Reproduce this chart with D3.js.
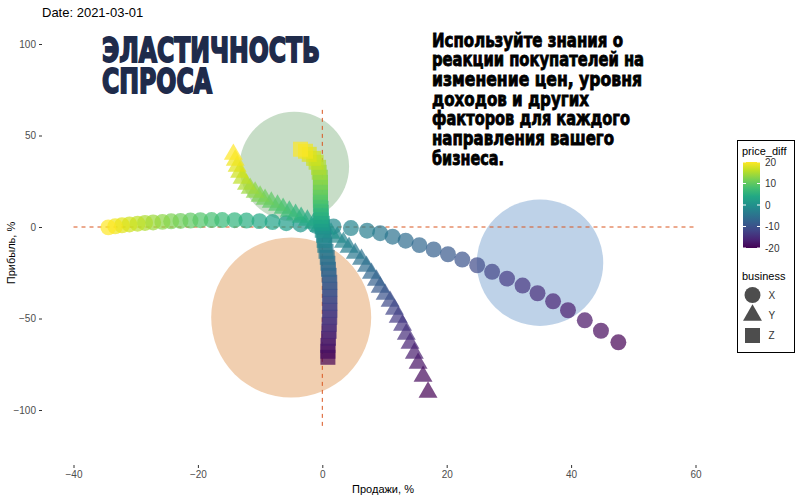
<!DOCTYPE html>
<html>
<head>
<meta charset="utf-8">
<script src="https://cdn.jsdelivr.net/npm/d3@7"></script>
<style>
  body { margin: 0; background: #fff; }
  svg { display: block; font-family: "Liberation Sans", Arial, sans-serif; }
</style>
</head>
<body>
<svg id="chart" width="800" height="500"></svg>
<script>
// price_diff for each step of every series (same for X, Y, Z)
const priceDiff = [20, 19, 18, 17, 16, 15, 14, 13, 12, 11, 10, 9, 8, 7, 6, 5, 4, 3, 2, 1, 0,
  -1, -2, -3, -4, -5, -6, -7, -8, -9, -10, -11, -12, -13, -14, -15, -16, -17, -18, -19, -20];

// business X (circles): [sales %, profit %]
const seriesX = [
  [-34.4, -0.2], [-33.3, 0.4], [-32.2, 0.9], [-31.0, 1.4], [-29.7, 1.8], [-28.5, 2.2], [-27.2, 2.5],
  [-25.7, 2.8], [-24.3, 3.1], [-22.8, 3.3], [-21.2, 3.5], [-19.6, 3.7], [-17.8, 3.8], [-16.1, 3.8],
  [-14.1, 3.7], [-12.2, 3.5], [-10.1, 3.2], [-8.0, 2.7], [-5.8, 2.1], [-3.5, 1.4], [-1.1, 0.7],
  [1.8, 0.3], [4.6, -0.6], [7.2, -2.0], [9.3, -3.4], [11.3, -5.3], [13.4, -7.5], [15.6, -9.9],
  [17.9, -12.3], [20.2, -14.9], [22.5, -17.8], [24.9, -20.9], [27.3, -24.5], [29.7, -28.2],
  [32.2, -32.0], [34.6, -36.2], [37.1, -40.6], [39.5, -45.5], [42.2, -51.0], [44.8, -56.7], [47.6, -63.0]
];

// business Y (triangles)
const seriesY = [
  [-14.3, 39.7], [-14.0, 36.5], [-13.7, 33.2], [-13.3, 29.9], [-12.9, 26.6], [-12.2, 23.3], [-11.6, 21.1],
  [-10.8, 19.0], [-10.0, 16.8], [-9.2, 15.1], [-8.2, 13.5], [-7.2, 11.9], [-6.3, 10.2], [-5.3, 8.6],
  [-4.3, 6.9], [-3.4, 5.3], [-2.4, 3.7], [-1.4, 2.0], [-0.5, 0.4], [0.5, -1.3], [1.4, -3.4],
  [2.4, -5.6], [3.4, -8.4], [4.3, -11.1], [5.3, -14.4], [6.3, -17.7], [7.1, -21.5], [7.9, -25.3],
  [8.7, -29.1], [9.3, -32.9], [10.1, -36.8], [10.9, -40.6], [11.6, -45.0], [12.2, -49.3], [12.9, -53.7],
  [13.5, -58.6], [14.1, -63.6], [14.8, -69.0], [15.4, -74.5], [16.2, -81.6], [17.0, -90.3]
];

// business Z (squares)
const seriesZ = [
  [-3.5, 42.5], [-2.7, 41.4], [-2.1, 39.7], [-1.4, 37.5], [-1.0, 35.4], [-0.6, 32.6], [-0.5, 29.9],
  [-0.3, 27.2], [-0.3, 24.4], [-0.3, 21.7], [-0.3, 19.0], [-0.3, 16.8], [-0.3, 14.6], [-0.3, 12.4],
  [-0.2, 10.2], [-0.2, 8.0], [-0.2, 5.8], [-0.2, 3.7], [0.0, 2.0], [0.0, 0.4], [0.0, -1.8],
  [0.2, -4.5], [0.3, -7.3], [0.4, -10.0], [0.6, -13.3], [0.8, -16.6], [0.9, -19.8], [1.0, -23.1],
  [1.1, -26.4], [1.2, -30.2], [1.2, -34.0], [1.2, -37.9], [1.2, -41.7], [1.2, -45.5], [1.2, -49.3],
  [1.1, -53.2], [1.1, -57.0], [1.0, -60.8], [0.9, -64.7], [0.9, -67.9], [0.9, -71.2]
];

// background bubbles: [sales, profit, size]
const bubbles = [
  [-4.5, 33, 30],
  [-5, -49.5, 64],
  [35, -19.5, 40]
];
const bubbleColors = ["#8fbc8f", "#e3a062", "#7ea6d2"];

const xTicks = [-40, -20, 0, 20, 40, 60];
const yTicks = [-100, -50, 0, 50, 100];
const legendTicks = [-20, -10, 0, 10, 20];
const businesses = ["X", "Y", "Z"];

const titleLines = ["ЭЛАСТИЧНОСТЬ", "СПРОСА"];
const noteLines = [
  "Используйте знания о",
  "реакции покупателей на",
  "изменение цен, уровня",
  "доходов и других",
  "факторов для каждого",
  "направления вашего",
  "бизнеса."
];

const svg = d3.select("#chart");

const x = d3.scaleLinear().domain([-40, 60]).range([73.5, 695.5]);
const y = d3.scaleLinear().domain([-100, 100]).range([410, 44]);
const color = d3.scaleSequential(d3.interpolateViridis).domain([-20, 20]);
const r = d3.scaleSqrt().domain([0, 100]).range([0, 100]);

const shapes = { X: d3.symbolCircle, Y: d3.symbolTriangle, Z: d3.symbolSquare };
const shapeSize = { X: 200, Y: 155, Z: 225 };

// bubbles
svg.append("g").selectAll("circle")
  .data(bubbles)
  .join("circle")
  .attr("cx", d => x(d[0]))
  .attr("cy", d => y(d[1]))
  .attr("r", d => r(d[2]))
  .attr("fill", (d, i) => bubbleColors[i])
  .attr("fill-opacity", 0.5);

// reference lines
svg.append("line")
  .attr("x1", x(-40)).attr("x2", x(60))
  .attr("y1", y(0)).attr("y2", y(0))
  .attr("stroke", "#d9541e").attr("stroke-width", 1)
  .attr("stroke-dasharray", "4,4");
svg.append("line")
  .attr("x1", x(0)).attr("x2", x(0))
  .attr("y1", y(64)).attr("y2", y(-109))
  .attr("stroke", "#d9541e").attr("stroke-width", 1)
  .attr("stroke-dasharray", "4,4");

// points: purple first, yellow on top
const points = [];
[seriesX, seriesY, seriesZ].forEach((s, k) => {
  const rows = s.map((d, i) => ({ b: businesses[k], sx: d[0], py: d[1], p: priceDiff[i] }));
  rows.sort((a, b) => a.p - b.p);
  points.push(...rows);
});

svg.append("g").selectAll("path")
  .data(points)
  .join("path")
  .attr("transform", d => `translate(${x(d.sx)},${y(d.py)})`)
  .attr("d", d => d3.symbol(shapes[d.b], shapeSize[d.b])())
  .attr("fill", d => color(d.p))
  .attr("fill-opacity", 0.7);

// axes
const xAxis = svg.append("g")
  .attr("transform", "translate(0,465)")
  .call(d3.axisBottom(x).tickValues(xTicks).tickSize(3).tickPadding(3));
const yAxis = svg.append("g")
  .attr("transform", "translate(42,0)")
  .call(d3.axisLeft(y).tickValues(yTicks).tickSize(3).tickPadding(3));
[xAxis, yAxis].forEach(g => {
  g.select(".domain").remove();
  g.selectAll(".tick line").attr("stroke", "#333");
  g.selectAll(".tick text").attr("fill", "#4d4d4d")
    .style("font-family", "Liberation Sans, Arial, sans-serif").style("font-size", "10px");
});

svg.append("text")
  .attr("x", 383).attr("y", 493)
  .attr("text-anchor", "middle")
  .style("font-size", "11px")
  .text("Продажи, %");
svg.append("text")
  .attr("transform", "translate(15,253) rotate(-90)")
  .attr("text-anchor", "middle")
  .style("font-size", "11px")
  .text("Прибыль, %");

// date label
svg.append("text")
  .attr("x", 42).attr("y", 17)
  .style("font-size", "13px")
  .text("Date: 2021-03-01");

// title
const condensed = "'Liberation Sans Narrow', 'DejaVu Sans Condensed', 'Roboto Condensed', sans-serif";
const titleWidths = [218, 110];
svg.append("g").selectAll("text")
  .data(titleLines)
  .join("text")
  .attr("x", 102)
  .attr("y", (d, i) => 62 + i * 31)
  .attr("textLength", (d, i) => titleWidths[i])
  .attr("lengthAdjust", "spacingAndGlyphs")
  .attr("fill", "#1f2b4b")
  .attr("stroke", "#1f2b4b")
  .attr("stroke-width", 1.8)
  .style("font-family", condensed)
  .style("font-weight", "bold")
  .style("font-size", "34px")
  .text(d => d);

// note
const noteWidths = [191, 212, 210, 157, 198, 182, 72];
svg.append("g").selectAll("text")
  .data(noteLines)
  .join("text")
  .attr("x", 432)
  .attr("y", (d, i) => 46.5 + i * 19.7)
  .attr("textLength", (d, i) => noteWidths[i])
  .attr("lengthAdjust", "spacingAndGlyphs")
  .attr("fill", "#000")
  .attr("stroke", "#000")
  .attr("stroke-width", 0.8)
  .style("font-family", condensed)
  .style("font-weight", "bold")
  .style("font-size", "19.5px")
  .text(d => d);

// legend
const lg = svg.append("g");
lg.append("rect")
  .attr("x", 737.5).attr("y", 140.5)
  .attr("width", 57).attr("height", 212)
  .attr("fill", "#fff").attr("stroke", "#000").attr("stroke-width", 1);

lg.append("text").attr("x", 742).attr("y", 155)
  .style("font-size", "11px").text("price_diff");

const grad = svg.append("defs").append("linearGradient")
  .attr("id", "vir").attr("x1", 0).attr("y1", 1).attr("x2", 0).attr("y2", 0);
d3.range(0, 1.01, 0.1).forEach(t => {
  grad.append("stop").attr("offset", t).attr("stop-color", d3.interpolateViridis(t));
});
const ly = d3.scaleLinear().domain([-20, 20]).range([248, 162]);
lg.append("rect")
  .attr("x", 743).attr("y", ly(20))
  .attr("width", 17).attr("height", ly(-20) - ly(20))
  .attr("fill", "url(#vir)");
const lt = lg.append("g").selectAll("g").data(legendTicks).join("g");
lt.append("line").attr("x1", 743).attr("x2", 746)
  .attr("y1", d => ly(d)).attr("y2", d => ly(d)).attr("stroke", "#fff");
lt.append("line").attr("x1", 757).attr("x2", 760)
  .attr("y1", d => ly(d)).attr("y2", d => ly(d)).attr("stroke", "#fff");
lt.append("text").attr("x", 765).attr("y", d => ly(d)).attr("dy", "0.35em")
  .attr("fill", "#333").style("font-size", "10px").text(d => d);

lg.append("text").attr("x", 742).attr("y", 280)
  .style("font-size", "11px").text("business");
const keyY = d3.scalePoint().domain(businesses).range([295, 335.5]);
const keys = lg.append("g").selectAll("g").data(businesses).join("g")
  .attr("transform", d => `translate(752.5,${keyY(d)})`);
keys.append("path")
  .attr("d", d => d3.symbol(shapes[d], shapeSize[d])())
  .attr("fill", "#4d4d4d");
keys.append("text").attr("x", 16).attr("dy", "0.35em")
  .attr("fill", "#333").style("font-size", "10px").text(d => d);
</script>
</body>
</html>
